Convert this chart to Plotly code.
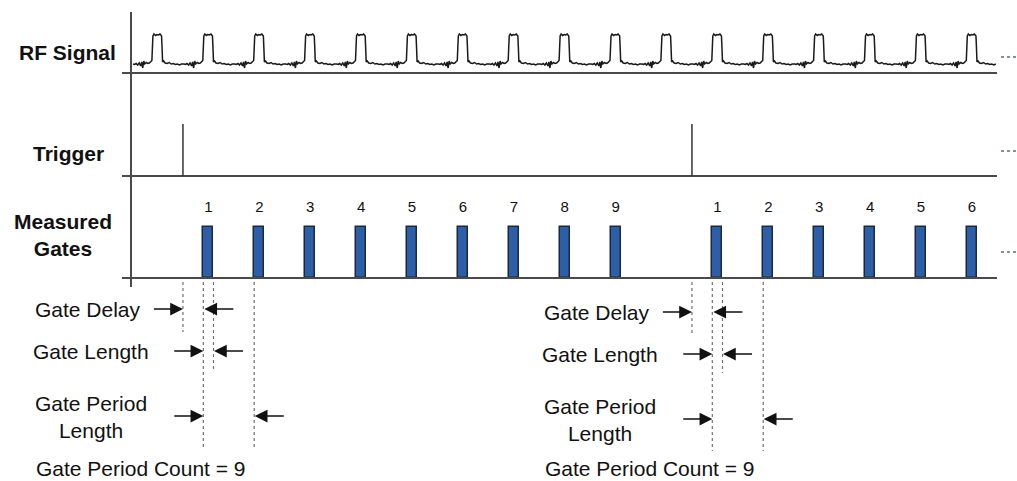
import plotly.graph_objects as go

# ---------------- data ----------------
# time unit = one gate period; pulses of the RF signal are centred on integer times
pulse_times = list(range(17))
# one period of the RF waveform: offset within period, level (px above baseline)
rf_offsets = [-0.48, -0.45, -0.42, -0.39, -0.36, -0.33, -0.31, -0.29, -0.27, -0.25, -0.22, -0.19,
               -0.16, -0.13, -0.11, -0.10, -0.09, -0.07, -0.04, -0.01, 0.02, 0.05, 0.08, 0.09,
               0.10, 0.12, 0.15, 0.19, 0.23, 0.27, 0.31, 0.35, 0.39, 0.43, 0.47]
rf_levels = [9.0, 8.5, 9.5, 8.0, 10.0, 7.0, 11.0, 5.0, 12.0, 9.0, 10.5, 9.5,
             10.0, 11.0, 12.5, 25.0, 37.0, 39.0, 37.5, 38.5, 38.0, 39.0, 37.0, 25.0,
             11.0, 12.0, 10.0, 9.5, 10.5, 9.0, 9.5, 8.5, 9.0, 8.0, 9.0]

trigger_times = [0.5, 10.5]
gate_times = [1, 2, 3, 4, 5, 6, 7, 8, 9, 11, 12, 13, 14, 15, 16]
gate_labels = ["1", "2", "3", "4", "5", "6", "7", "8", "9", "1", "2", "3", "4", "5", "6"]
gate_width = 0.2
gate_delay = 0.4
gate_period = 1.0
gate_period_count = 9

row_names = ["<b>RF Signal</b>", "<b>Trigger</b>", "<b>Measured<br>Gates</b>"]

# ---------------- geometry (styling) ----------------
PX = 50.9          # px per time unit
X0 = 157.5         # px of t = 0
W, H = 1017, 481
RF_BASE, TRIG_BASE, GATE_BASE = 73, 176, 278
GATE_H, TRIG_H = 51, 52
t_of = lambda px: (px - X0) / PX

fig = go.Figure()
AX = "#4a4a4a"
DOT = "#707070"

# axes lines
fig.add_trace(go.Scatter(x=[t_of(131), t_of(131)], y=[12, 287], mode="lines",
                         line=dict(color=AX, width=2), hoverinfo="skip"))
for yb in [RF_BASE, TRIG_BASE, GATE_BASE]:
    fig.add_trace(go.Scatter(x=[t_of(122), t_of(997)], y=[yb, yb], mode="lines",
                             line=dict(color=AX, width=2), hoverinfo="skip"))

# RF waveform
rx, ry = [], []
for p in pulse_times:
    for o, l in zip(rf_offsets, rf_levels):
        rx.append(p + o)
        ry.append(RF_BASE - l)
fig.add_trace(go.Scatter(x=rx, y=ry, mode="lines", line=dict(color="#1a1a1a", width=1.5),
                         hoverinfo="skip"))

# Trigger spikes
for tt in trigger_times:
    fig.add_trace(go.Scatter(x=[tt, tt], y=[TRIG_BASE, TRIG_BASE - TRIG_H], mode="lines",
                             line=dict(color="#333333", width=1.5), hoverinfo="skip"))

# Gates
fig.add_trace(go.Bar(x=gate_times, y=[-GATE_H] * len(gate_times), base=GATE_BASE,
                     width=gate_width, marker=dict(color="#2c5fa8", line=dict(color="#1e2838", width=1.5)),
                     hoverinfo="skip"))
fig.add_trace(go.Scatter(x=gate_times, y=[208] * len(gate_times), mode="text", text=gate_labels,
                         textfont=dict(family="Liberation Sans, Arial", size=15, color="#111111"),
                         hoverinfo="skip"))

# continuation dots
for yd in [57, 151, 252]:
    fig.add_trace(go.Scatter(x=[t_of(1001), t_of(1016)], y=[yd, yd], mode="lines",
                             line=dict(color="#7d8fab", width=2, dash="dot"), hoverinfo="skip"))

font_reg = dict(family="Liberation Sans, Arial", size=21, color="#111111")
font_bold = dict(family="Liberation Sans, Arial", size=21, color="#111111")

# row labels
fig.add_annotation(x=t_of(67), y=52, text=row_names[0], showarrow=False, font=font_bold, xref="x", yref="y")
fig.add_annotation(x=t_of(68), y=153, text=row_names[1], showarrow=False, font=font_bold, xref="x", yref="y")
fig.add_annotation(x=t_of(63), y=234.5, text=row_names[2], showarrow=False, font=font_bold, xref="x", yref="y")

# annotation groups for each trigger
ARROW_LEN = 0.6
for k, t0 in enumerate(trigger_times):
    dy = 3 * k
    gs = t0 + gate_delay
    ge = gs + gate_width
    g2 = gs + gate_period
    # dotted drop lines
    for xv, yend in [(t0, 332), (gs, 448), (ge, 370), (g2, 448)]:
        fig.add_trace(go.Scatter(x=[xv, xv], y=[282, yend + dy], mode="lines",
                                 line=dict(color=DOT, width=1.2, dash="dot"), hoverinfo="skip"))
    rows = [(309 + dy, t0, gs + 0.02), (351 + dy, gs, ge + 0.01), (416 + dy, gs, g2 + 0.01)]
    for yv, left_target, right_target in rows:
        fig.add_annotation(x=left_target, y=yv, ax=left_target - ARROW_LEN, ay=yv,
                           xref="x", yref="y", axref="x", ayref="y", text="", showarrow=True,
                           arrowhead=2, arrowsize=1.7, arrowwidth=1.5, arrowcolor="#111111", standoff=0)
        fig.add_annotation(x=right_target, y=yv, ax=right_target + ARROW_LEN, ay=yv,
                           xref="x", yref="y", axref="x", ayref="y", text="", showarrow=True,
                           arrowhead=2, arrowsize=1.7, arrowwidth=1.5, arrowcolor="#111111", standoff=0)
    fig.add_annotation(x=t0 - 1.856, y=309 + dy, text="Gate Delay", showarrow=False, font=font_reg,
                       xref="x", yref="y", xanchor="center")
    fig.add_annotation(x=t0 - 1.806, y=351 + dy, text="Gate Length", showarrow=False, font=font_reg,
                       xref="x", yref="y", xanchor="center")
    fig.add_annotation(x=t0 - 1.806, y=416.5 + dy, text="Gate Period<br>Length", showarrow=False,
                       font=font_reg, xref="x", yref="y", xanchor="center")
    fig.add_annotation(x=t0 - 2.93, y=468, text=f"Gate Period Count = {gate_period_count}",
                       showarrow=False, font=font_reg, xref="x", yref="y", xanchor="left")

fig.update_layout(
    width=W, height=H, margin=dict(l=0, r=0, t=0, b=0),
    plot_bgcolor="white", paper_bgcolor="white", showlegend=False,
    xaxis=dict(range=[t_of(0), t_of(W)], visible=False, fixedrange=True),
    yaxis=dict(range=[H, 0], visible=False, fixedrange=True),
    bargap=0,
)

fig.write_html("out.html", config={"displayModeBar": False},
               post_script="document.body.style.margin='0';document.body.style.overflow='hidden';")
